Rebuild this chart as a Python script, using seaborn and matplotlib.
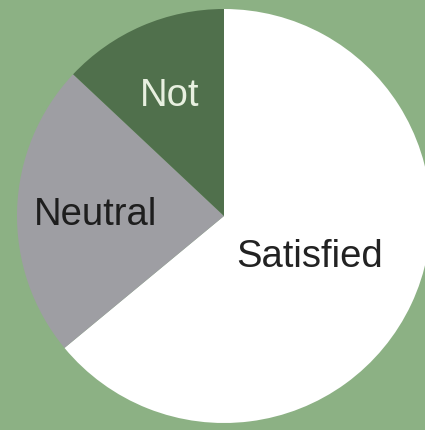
import matplotlib
matplotlib.use("Agg")
import matplotlib.pyplot as plt
import seaborn as sns

labels = ["Satisfied", "Neutral", "Not"]
shares = [64, 23, 13]
colors = ["#ffffff", "#9e9ea3", "#50704c"]
label_colors = ["#222222", "#1e1e1e", "#e8f0e0"]
label_pos = [(0.415, -0.198), (-0.623, 0.005), (-0.261, 0.580)]

sns.set_style("white")
plt.rcParams["font.family"] = ["Liberation Sans", "DejaVu Sans"]

bg = "#8cb184"
fig = plt.figure(figsize=(4.25, 4.30), dpi=100, facecolor=bg)
ax = fig.add_axes([17 / 425, (430 - 423) / 430, 414 / 425, 414 / 430])
ax.set_facecolor(bg)

ax.pie(shares, colors=colors, startangle=90, counterclock=False,
       radius=1, wedgeprops=dict(linewidth=0))

for lab, (x, y), c in zip(labels, label_pos, label_colors):
    ax.text(x, y, lab, ha="center", va="center", fontsize=27.5, color=c)

ax.set_xlim(-1, 1)
ax.set_ylim(-1, 1)
ax.set_aspect("auto")
ax.axis("off")

fig.savefig("out.png", dpi=100, facecolor=bg)
